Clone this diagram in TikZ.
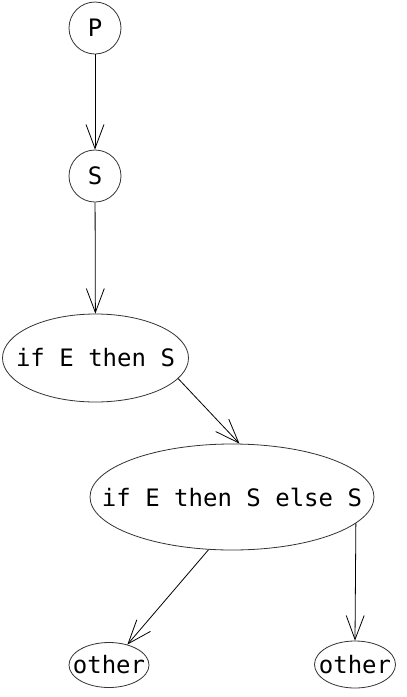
\documentclass[tikz,border=0pt]{standalone}
\usepackage{fontspec}
\setmonofont{DejaVu Sans Mono}
\usepackage{tikz}
\usetikzlibrary{shapes.geometric, arrows.meta}
\tikzset{
	defaultnode/.style={
			circle,
			draw=black!80,
			line width=0.8pt,
			fill=white,
			minimum size=52pt,
			inner sep=0pt,
			font=\ttfamily\fontsize{24}{28}\selectfont
		},
	ellnode/.style={
			defaultnode,
			ellipse,
			inner ysep=0pt
		}
}

\begin{document}
\begin{tikzpicture}[x=1pt, y=-1pt, >={Straight Barb[length=24pt, width=18pt]}]
\useasboundingbox (0,0) rectangle (407,697);
\node[defaultnode] (n1) at (95,28)  {P};
\node[defaultnode] (n2) at (95,176)  {S};
\node[ellnode, inner xsep=-14pt, minimum width=186pt, minimum height=88pt] (n3) at (95.5,358)  {if E then S};
\node[ellnode, inner xsep=-30pt, minimum width=284pt, minimum height=106pt] (n4) at (232,497)  {if E then S else S};
\node[ellnode, inner xsep=-8pt, minimum width=80pt, minimum height=45pt] (n5) at (109,665)  {other};
\node[ellnode, inner xsep=-8pt, minimum width=81pt, minimum height=47pt] (n6) at (355,664.5)  {other};

\draw[line width=0.8pt, ->] (n1) -- (n2);
\draw[line width=0.8pt, ->] (n2) -- (n3);

\draw[line width=0.8pt, ->] (n3.-14) -- (n4.82);

\draw[line width=0.8pt, ->] (n4.246) -- (n5.48);
\draw[line width=0.8pt, ->] (n4.-12) -- (n6.north);
\end{tikzpicture}
\end{document}
